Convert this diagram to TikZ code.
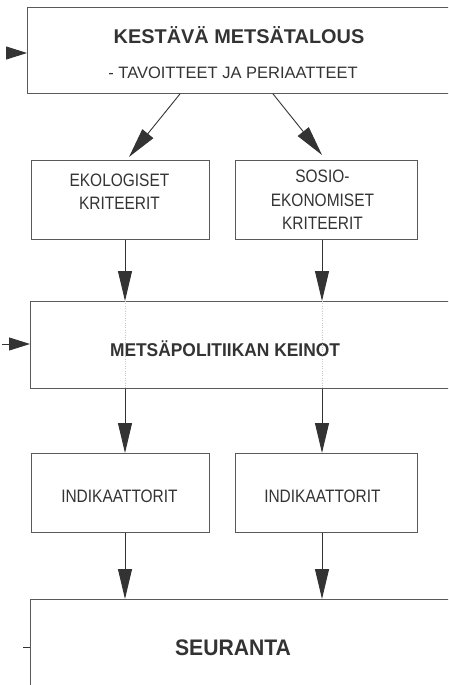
\documentclass[tikz,border=0pt]{standalone}
\usepackage{fontspec}
\setmainfont{Liberation Sans}
\newfontfamily\boxfont[FakeStretch=0.86]{Liberation Sans}
\newfontfamily\headfont[FakeStretch=0.94]{Liberation Sans}
\usetikzlibrary{arrows.meta}
\definecolor{ink}{HTML}{333333}
\definecolor{rule}{HTML}{5A5A5A}
\begin{document}
\begin{tikzpicture}[x=1pt,y=-1pt,
  frame/.style={draw=rule, line width=0.9pt, inner sep=0pt, anchor=north west},
  link/.style={draw=ink, line width=0.9pt, -{Triangle[length=30pt,width=14pt]}},
  feed/.style={draw=ink, line width=0.9pt, -{Triangle[length=21pt,width=13pt]}},
  trace/.style={draw=black!22, line width=0.4pt, dotted},
  caption/.style={text=ink, inner sep=0pt, anchor=base},
  boxtext/.style={text=ink, inner sep=0pt, align=center, font=\boxfont\fontsize{18}{23.4}\selectfont}]
\useasboundingbox (0,0) rectangle (448,685);
\clip (0,0) rectangle (448,685);

% boxes
\node[frame, minimum width=440pt, minimum height=86pt] (goal) at (27,7) {};
\node[frame, minimum width=178pt, minimum height=79pt] (eko) at (31,160) {};
\node[frame, minimum width=182pt, minimum height=79pt] (sos) at (235,160) {};
\node[frame, minimum width=440pt, minimum height=87pt] (means) at (30,301) {};
\node[frame, minimum width=178pt, minimum height=79pt] (ind1) at (31,453) {};
\node[frame, minimum width=182pt, minimum height=79pt] (ind2) at (235,453) {};
\node[frame, minimum width=440pt, minimum height=110pt] (mon) at (30,599) {};

% texts
\node[caption, font=\bfseries\fontsize{19.9}{24}\selectfont] (goalT) at (239,44) {KESTÄVÄ METSÄTALOUS};
\node[caption, font=\fontsize{16.5}{20}\selectfont] (goalS) at (233,78.5) {- TAVOITTEET JA PERIAATTEET};
\node[boxtext, yshift=8pt, xshift=-1pt] (ekoT) at (eko.center) {EKOLOGISET\\KRITEERIT};
\node[boxtext, xshift=-4pt] (sosT) at (sos.center) {SOSIO-\\EKONOMISET\\KRITEERIT};
\node[caption, font=\headfont\bfseries\fontsize{18.5}{22}\selectfont] (meansT) at (225,356) {METSÄPOLITIIKAN KEINOT};
\node[boxtext, xshift=-1pt, yshift=-3pt] (ind1T) at (ind1.center) {INDIKAATTORIT};
\node[boxtext, xshift=-4pt, yshift=-3pt] (ind2T) at (ind2.center) {INDIKAATTORIT};
\node[caption, font=\headfont\bfseries\fontsize{22.5}{27}\selectfont] (monT) at (233,655) {SEURANTA};

% faint traces of the arrows through the policy box
\draw[trace] ([xshift=95pt]means.north west) -- ([xshift=95pt]means.south west);
\draw[trace] ([xshift=292pt]means.north west) -- ([xshift=292pt]means.south west);

% connectors
\draw[link] ([xshift=153pt]goal.south west) -- ([xshift=98pt,yshift=3pt]eko.north west);
\draw[link] ([xshift=246pt]goal.south west) -- ([xshift=87pt,yshift=5pt]sos.north west);
\draw[link] ([xshift=94pt]eko.south west) -- ([xshift=95pt]means.north west);
\draw[link] ([xshift=87pt]sos.south west) -- ([xshift=292pt]means.north west);
\draw[link] ([xshift=95pt]means.south west) -- ([xshift=94pt]ind1.north west);
\draw[link] ([xshift=292pt]means.south west) -- ([xshift=87pt]ind2.north west);
\draw[link] ([xshift=94pt]ind1.south west) -- ([xshift=95pt]mon.north west);
\draw[link] ([xshift=87pt]ind2.south west) -- ([xshift=292pt]mon.north west);

% inputs from the left
\coordinate (inGoal) at (7,53);
\coordinate (inMeans) at (2,344);
\coordinate (inMon) at (23,647);
\draw[feed] (inGoal) -- (goal.west |- inGoal);
\draw[feed] (inMeans) -- (means.west |- inMeans);
\draw[draw=ink, line width=0.9pt] (inMon) -- (mon.west |- inMon);
\end{tikzpicture}
\end{document}
